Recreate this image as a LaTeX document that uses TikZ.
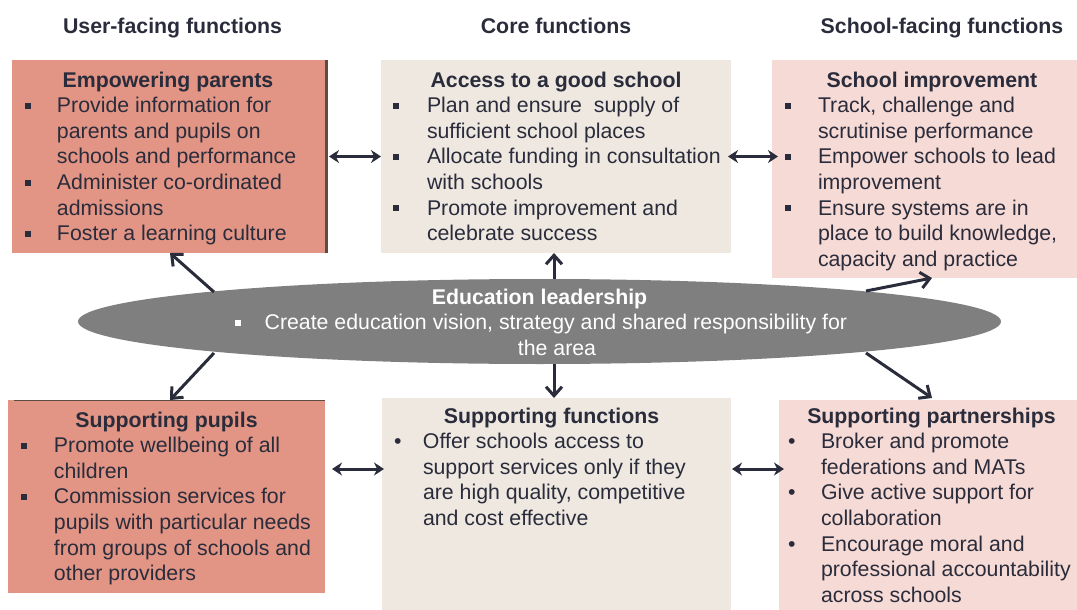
\documentclass[tikz,border=0pt]{standalone}
\usepackage{fontspec}
\setmainfont{Liberation Sans}
\usetikzlibrary{arrows.meta,shapes.geometric,calc}
\definecolor{ink}{HTML}{2A2C3B}
\definecolor{salmon}{HTML}{E29585}
\definecolor{cream}{HTML}{EEE8E1}
\definecolor{blush}{HTML}{F6DAD5}
\definecolor{edge}{HTML}{5C4C44}
\definecolor{oval}{HTML}{7F7F7F}
\newlength\tx \newlength\bx
\newcommand\sqb{\rule[3.6pt]{6pt}{6pt}}
\newcommand\rdb{\hspace{-1pt}•}
\newcommand\boxtext[5]{% height, width, first baseline, text x, bullet x
  \vbox to #1pt\bgroup\hsize=#2pt \parindent=0pt \parskip=0pt \baselineskip=25.6pt \lineskiplimit=-100pt
  \tx=#4pt \bx=#5pt \vskip\dimexpr#3pt-25.6pt\relax \prevdepth=0pt }
\newcommand\boxend{\vss\egroup}
\newcommand\ttl[2][0pt]{{\centering\bfseries\hspace*{#1}#2\par}}
\newcommand\itm[2]{{\leftskip=\tx \rightskip=0pt plus 1fil \noindent\llap{\makebox[\dimexpr\tx-\bx\relax][l]{#1}}#2\par}}
\tikzset{
  panel/.style={draw=none,rectangle,anchor=north west,inner sep=0pt,outer sep=0pt,text=ink,font=\fontsize{21.3}{25.6}\selectfont},
  head/.style={anchor=base,inner sep=0pt,text=ink,font=\fontsize{21.3}{25.6}\selectfont\bfseries},
  twoway/.style={draw=ink,line width=3pt,{Stealth[length=10pt,width=13pt]}-{Stealth[length=10pt,width=13pt]}},
  oneway/.style={draw=ink,line width=3pt,-{Straight Barb[length=9pt,width=16pt,line width=3pt]}},
}
\begin{document}
\begin{tikzpicture}[x=1pt,y=-1pt]
\useasboundingbox (0,0) rectangle (1077,610);
\node[head] (h1) at (172.5,34) {User-facing functions};
\node[head] (h2) at (556,34) {Core functions};
\node[head] (h3) at (942,34) {School-facing functions};

\node[panel,fill=salmon] (A) at (12,60) {\boxtext{193}{316}{27}{45}{13}
  \ttl{\hspace*{-4pt}Empowering parents}
  \itm{\sqb}{Provide information for\\parents and pupils on\\schools and performance}
  \itm{\sqb}{Administer co-ordinated\\admissions}
  \itm{\sqb}{Foster a learning culture}
\boxend};
\node[panel,fill=cream] (B) at (381,60) {\boxtext{193}{350}{27}{46}{12}
  \ttl{Access to a good school}
  \itm{\sqb}{Plan and ensure\ \ supply of\\sufficient school places}
  \itm{\sqb}{Allocate funding in consultation\\with schools}
  \itm{\sqb}{Promote improvement and\\celebrate success}
\boxend};
\node[panel,fill=blush] (C) at (772,60) {\boxtext{218}{305}{27}{46}{13}
  \ttl[15pt]{School improvement}
  \itm{\sqb}{Track, challenge and\\scrutinise performance}
  \itm{\sqb}{Empower schools to lead\\improvement}
  \itm{\sqb}{Ensure systems are in\\place to build knowledge,\\capacity and practice}
\boxend};
\node[panel,fill=salmon] (D) at (8,400) {\boxtext{193}{317}{27}{46}{13}
  \ttl{Supporting pupils}
  \itm{\sqb}{Promote wellbeing of all\\children}
  \itm{\sqb}{Commission services for\\pupils with particular needs\\from groups of schools and\\other providers}
\boxend};
\node[panel,fill=cream] (E) at (382,398) {\boxtext{212}{349}{25}{41}{13}
  \ttl{\hspace*{-10pt}Supporting functions}
  \itm{\rdb}{Offer schools access to\\support services only if they\\are high quality, competitive\\and cost effective}
\boxend};
\node[panel,fill=blush] (F) at (779,400) {\boxtext{210}{298}{23}{42}{10}
  \ttl[7pt]{Supporting partnerships}
  \itm{\rdb}{Broker and promote\\federations and MATs}
  \itm{\rdb}{Give active support for\\collaboration}
  \itm{\rdb}{Encourage moral and\\professional accountability\\across schools}
\boxend};
\draw[edge,line width=3pt] ($(A.north east)+(-1.5,0)$) -- ($(A.south east)+(-1.5,0)$);
\draw[edge,line width=0.7pt] ($(D.north west)+(6,0)$) -- (D.north east);

\node[ellipse,fill=oval,inner sep=0pt,minimum width=923pt,minimum height=85pt,text=white,font=\fontsize{21.3}{25.6}\selectfont] (L) at (539.5,321.5)
  {\vbox to 0pt{\hsize=640pt \parindent=0pt \baselineskip=25.6pt \lineskiplimit=-100pt
   \vskip -43.1pt \prevdepth=0pt
   {\centering\bfseries Education leadership\par}
   {\leftskip=35pt plus 1fil \rightskip=0pt plus 1fil \parfillskip=0pt
    \noindent\hspace*{4pt}\llap{\makebox[30pt][l]{\rule[3.6pt]{6pt}{6pt}}}Create education vision, strategy and shared responsibility for\\the area\par}
   \vss}};

\coordinate (ea) at (214,292);
\coordinate (eb) at (554,279);
\coordinate (ec) at (866,291);
\coordinate (ed) at (214,353);
\coordinate (ee) at (554,364);
\coordinate (ef) at (866,353);
\coordinate (low) at (0,469);
\draw[oneway] (ea) -- (A.south);
\draw[oneway] (eb) -- ($(B.south)+(-2,0)$);
\draw[oneway] (ec) -- ($(C.south)+(7.5,0)$);
\draw[oneway] (ed) -- ($(D.north)+(3.5,0)$);
\draw[oneway] (ee) -- ($(E.north)+(-2.5,0)$);
\draw[oneway] (ef) -- ($(F.north)+(4,-2)$);
\draw[twoway] ($(A.east)+(1,0)$) -- (B.west);
\draw[twoway] ($(B.east)+(-3,0)$) -- ($(C.west |- B.east)+(6,0)$);
\draw[twoway] ($(D.east |- low)+(7,0)$) -- ($(E.west |- low)+(2,0)$);
\draw[twoway] ($(E.east |- low)+(1,0)$) -- ($(F.west |- low)+(5,0)$);
\end{tikzpicture}
\end{document}
